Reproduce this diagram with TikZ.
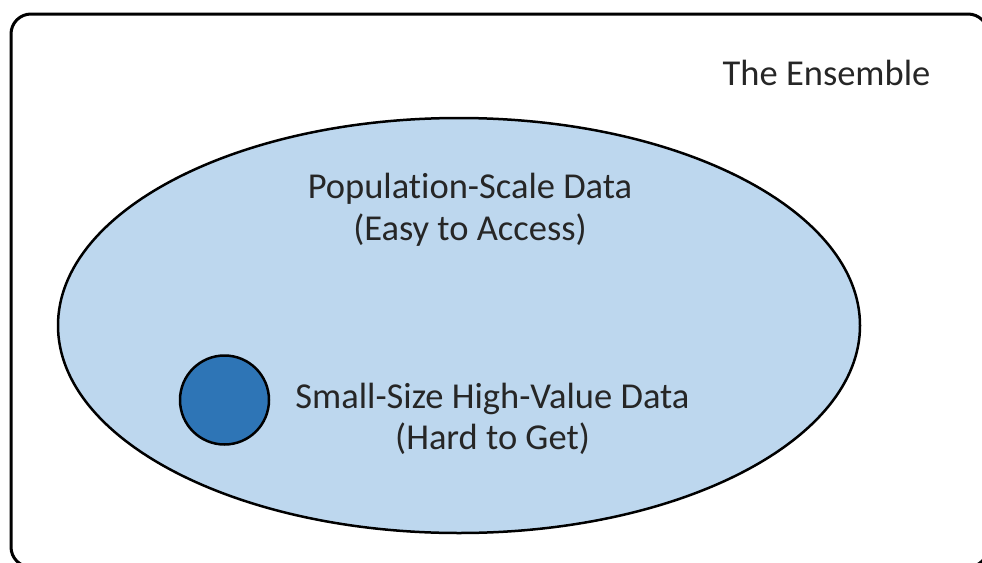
\documentclass[tikz,border=0pt]{standalone}
\usepackage{fontspec}
\setmainfont{Carlito}[Ligatures={NoCommon,NoContextual}, Contextuals=NoAlternate]
\usepackage{tikz}
\definecolor{popblue}{HTML}{BDD7EE}
\definecolor{gemblue}{HTML}{2E75B6}
\definecolor{txtgray}{HTML}{262626}

\tikzset{
  setlabel/.style={font=\fontsize{36.5}{41.5}\selectfont, text=txtgray, align=center, inner sep=0pt},
  setline/.style={line width=2.5pt, draw=black}
}

\begin{document}
\begin{tikzpicture}[x=1pt, y=-1pt]
  \useasboundingbox (0, 0) rectangle (982, 562);
  \clip (0, 0) rectangle (982, 562);
  % the ensemble
  \draw[line width=3pt, rounded corners=20pt] (11, 14) rectangle (988, 567);
  \node[setlabel, anchor=base] (ensemble) at (826.5, 85) {The Ensemble};
  % population-scale data
  \filldraw[setline, fill=popblue] (459, 325.5) ellipse (401 and 207.5);
  \node[setlabel] (population) at (470, 210) {Population-Scale Data\\(Easy to Access)};
  % small high-value data
  \filldraw[setline, fill=gemblue] (224.5, 400) circle (44.5);
  \node[setlabel] (highvalue) at (492.5, 419) {Small-Size High-Value Data\\(Hard to Get)};
\end{tikzpicture}
\end{document}
